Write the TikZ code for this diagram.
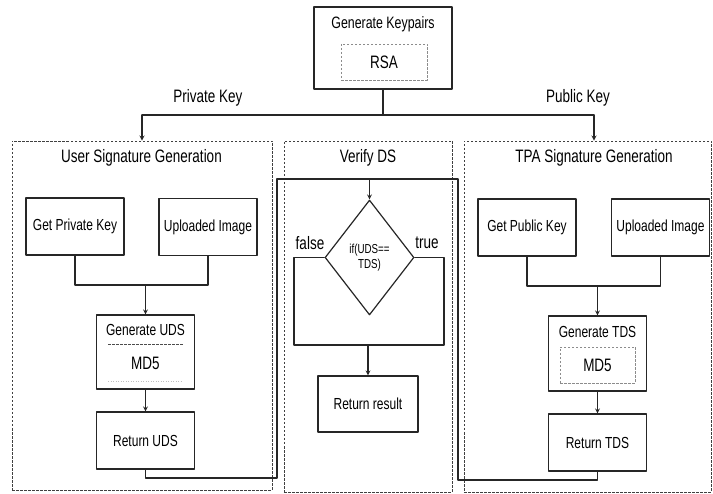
\documentclass[tikz,border=0pt]{standalone}
\usepackage{fontspec}
\setmainfont{Liberation Sans}[FakeStretch=0.75]
\usetikzlibrary{arrows,shapes.geometric}

\begin{document}
\begin{tikzpicture}[x=1pt,y=-1pt,line cap=round,line join=round,>=stealth,
  blk/.style={draw=black!85,line width=1.2pt,minimum width=98pt,minimum height=57pt,inner sep=0pt,font=\fontsize{16}{18}\selectfont},
  grp/.style={draw=black!75,line width=0.9pt,line cap=butt,dash pattern=on 2.5pt off 1.5pt,inner sep=0pt},
  sub/.style={draw=black!45,line width=0.8pt,line cap=butt,dash pattern=on 2.5pt off 1.5pt,inner sep=0pt,font=\fontsize{18}{20}\selectfont},
  lbl/.style={font=\fontsize{18}{20}\selectfont},
  txt/.style={font=\fontsize{16}{18}\selectfont},
  wire/.style={line width=1.2pt,draw=black!85}]
\useasboundingbox (0,0) rectangle (713,494);
% groups
\node[grp,minimum width=260pt,minimum height=349pt] (usrgrp) at (142,315.5) {};
\node[grp,minimum width=168pt,minimum height=351pt] (vergrp) at (368,316.5) {};
\node[grp,minimum width=247pt,minimum height=351pt] (tpagrp) at (587.5,316.5) {};
\node[lbl] (usrttl) at (141.5,158) {User Signature Generation};
\node[lbl] (verttl) at (368,158) {Verify DS};
\node[lbl] (tpattl) at (594,158) {TPA Signature Generation};
% keypairs
\node[blk,minimum width=138pt,minimum height=82pt] (keys) at (383,48) {};
\node[font=\fontsize{16.5}{18}\selectfont] (keysttl) at (383,24) {Generate Keypairs};
\node[sub,minimum width=86pt,minimum height=36pt] (rsa) at (384,62) {RSA};
\coordinate (split) at (383,115);
\coordinate (privdrop) at (142,115);
\coordinate (pubdrop) at (594,115);
\draw[wire] (keys.south) -- (split);
\draw[wire] (privdrop) -- (pubdrop);
\draw[wire,->] (privdrop) -- (privdrop |- usrgrp.north);
\draw[wire,->] (pubdrop) -- (pubdrop |- tpagrp.north);
\node[lbl] (privlbl) at (208,98) {Private Key};
\node[lbl] (publbl) at (578,98) {Public Key};
% user side
\node[blk] (getpriv) at (75,226.5) {Get Private Key};
\node[blk] (upleft) at (208,227) {Uploaded Image};
\node[blk,minimum height=74pt] (genuds) at (145.5,352) {};
\node[txt] (gudsttl) at (145.5,330) {Generate UDS};
\node[lbl] (gudsmd) at (145.5,363) {MD5};
\draw[black!70,line width=0.8pt,line cap=butt,dash pattern=on 2.5pt off 1.5pt] (108,344) -- (183,344);
\draw[black!25,line width=0.8pt,line cap=butt,dash pattern=on 1pt off 1.5pt] (108,381) -- (183,381);
\node[blk] (retuds) at (145.5,440.5) {Return UDS};
\coordinate (ljoin) at (145.5,285);
\draw[wire] (getpriv.south) |- (ljoin) -| (upleft.south);
\draw[wire,->] (ljoin) -- (genuds.north);
\draw[wire,->] (genuds) -- (retuds);
% tpa side
\node[blk] (getpub) at (527,227.5) {Get Public Key};
\node[blk] (upright) at (660.5,227.5) {Uploaded Image};
\node[blk,minimum height=75pt] (gentds) at (597.5,353.5) {};
\node[txt] (gtdsttl) at (597.5,332) {Generate TDS};
\node[sub,minimum width=75pt,minimum height=36pt] (tdsmd) at (597.5,365) {MD5};
\node[blk] (rettds) at (597.5,442.5) {Return TDS};
\coordinate (rjoin) at (597.5,286);
\draw[wire] (getpub.south) |- (rjoin) -| (upright.south);
\draw[wire,->] (rjoin) -- (gentds.north);
\draw[wire,->] (gentds) -- (rettds);
% verify
\node[draw=black!85,line width=1.2pt,diamond,minimum width=89pt,minimum height=115pt,inner sep=0pt,align=center,font=\fontsize{13}{15}\selectfont] (check) at (369.5,257.5) {if(UDS==\\TDS)};
\node[blk,minimum width=100pt,minimum height=56pt] (result) at (368,404) {Return result};
\coordinate (ubend) at (277,478);
\coordinate (ltop) at (277,179);
\coordinate (rtop) at (458,179);
\coordinate (tbend) at (458,480);
\coordinate (vtop) at (369.5,179);
\draw[wire] (retuds.south) |- (ubend) -- (ltop) -- (rtop) -- (tbend) -| (rettds.south);
\draw[wire,->] (vtop) -- (check.north);
\coordinate (fbend) at (294,257.5);
\coordinate (tbend2) at (444,257.5);
\coordinate (vjoin) at (368,345);
\draw[wire] (check.west) -- (fbend) |- (vjoin) -| (tbend2) -- (check.east);
\draw[wire,->] (vjoin) -- (result.north);
\node[lbl] (falselbl) at (310,243) {false};
\node[lbl] (truelbl) at (427,243) {true};
\end{tikzpicture}
\end{document}
